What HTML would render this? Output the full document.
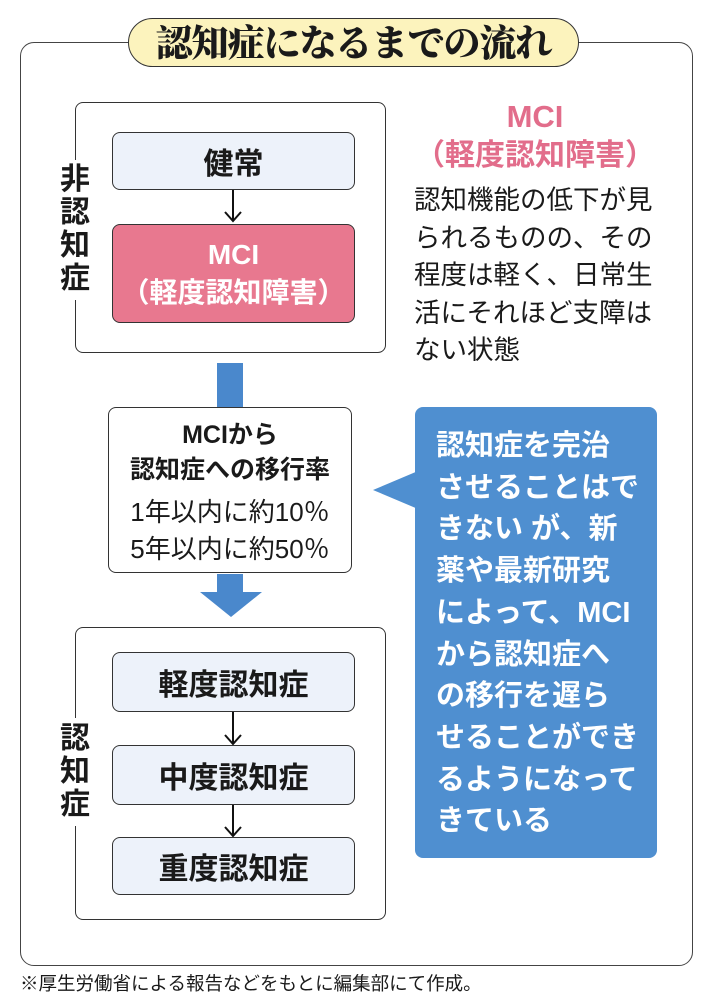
<!DOCTYPE html>
<html><head><meta charset="utf-8"><style>
*{margin:0;padding:0;box-sizing:border-box}
body{width:710px;height:1005px;background:#fff;position:relative;overflow:hidden;font-family:"Liberation Sans","Noto Sans CJK JP",sans-serif;color:#1a1a1a}
.a{position:absolute}
.box{position:absolute;border:1.5px solid #333;border-radius:8px}
.lb{position:absolute;background:#edf2fa;border:1.5px solid #333;border-radius:8px;display:flex;align-items:center;justify-content:center;font-weight:bold;font-size:30px}
.t{position:absolute;white-space:nowrap;line-height:1}
.c{text-align:center}
</style></head><body>
<div class="box" style="left:20px;top:42px;width:673px;height:924px;border-radius:14px;border-color:#444"></div>
<div class="a" style="left:128px;top:18px;width:451px;height:49px;background:#fcf3bd;border:1.5px solid #333;border-radius:25px"></div>
<div class="t c" style="left:128px;top:22px;width:451px;font-family:'Noto Serif CJK SC','Noto Serif CJK JP',serif;font-weight:900;font-size:37px;letter-spacing:-1px">認知症になるまでの流れ</div>

<div class="box" style="left:75px;top:102px;width:311px;height:251px"></div>
<div class="a" style="left:58px;top:160px;width:36px;height:140px;background:#fff"></div>
<div class="t" style="left:60px;top:163px;font-size:30px;font-weight:bold;line-height:33px;white-space:normal;width:32px">非<br>認<br>知<br>症</div>
<div class="lb" style="left:112px;top:132px;width:243px;height:58px">健常</div>
<svg class="a" style="left:222px;top:190px" width="22" height="34"><line x1="11" y1="0" x2="11" y2="31" stroke="#111" stroke-width="2"/><polyline points="3,22 11,31 19,22" fill="none" stroke="#111" stroke-width="2"/></svg>
<div class="lb" style="left:112px;top:224px;width:243px;height:99px;background:#e8788f;color:#fff;flex-direction:column;font-size:28px;line-height:38px">MCI<span>（軽度認知障害）</span></div>

<div class="t c" style="left:415px;top:101px;width:240px;color:#e26d8b;font-size:31px;font-weight:bold">MCI</div>
<div class="t c" style="left:400px;top:141px;width:270px;color:#e26d8b;font-size:30px;font-weight:bold">（軽度認知障害）</div>
<div class="t" style="left:414px;top:182px;font-size:26.5px;line-height:37.5px">認知機能の低下が見<br>られるものの、その<br>程度は軽く、日常生<br>活にそれほど支障は<br>ない状態</div>

<div class="a" style="left:217px;top:363px;width:26px;height:45px;background:#4a88cc"></div>
<div class="box" style="left:108px;top:407px;width:244px;height:166px;background:#fff"></div>
<div class="t c" style="left:108px;top:423px;width:244px;font-size:25px;font-weight:bold">MCIから</div>
<div class="t c" style="left:108px;top:458px;width:244px;font-size:25px;font-weight:bold">認知症への移行率</div>
<div class="t c" style="left:108px;top:499px;width:244px;font-size:26px">1年以内に約10％</div>
<div class="t c" style="left:108px;top:536px;width:244px;font-size:26px">5年以内に約50％</div>
<div class="a" style="left:217px;top:574px;width:26px;height:19px;background:#4a88cc"></div>
<svg class="a" style="left:200px;top:592px" width="62" height="26"><polygon points="0,0 62,0 31,25" fill="#4a88cc"/></svg>

<div class="box" style="left:75px;top:627px;width:311px;height:293px"></div>
<div class="a" style="left:58px;top:718px;width:36px;height:108px;background:#fff"></div>
<div class="t" style="left:60px;top:722px;font-size:30px;font-weight:bold;line-height:33px;white-space:normal;width:32px">認<br>知<br>症</div>
<div class="lb" style="left:112px;top:652px;width:243px;height:60px">軽度認知症</div>
<svg class="a" style="left:222px;top:712px" width="22" height="34"><line x1="11" y1="0" x2="11" y2="32" stroke="#111" stroke-width="2"/><polyline points="3,23 11,32 19,23" fill="none" stroke="#111" stroke-width="2"/></svg>
<div class="lb" style="left:112px;top:745px;width:243px;height:60px">中度認知症</div>
<svg class="a" style="left:222px;top:805px" width="22" height="34"><line x1="11" y1="0" x2="11" y2="31" stroke="#111" stroke-width="2"/><polyline points="3,22 11,31 19,22" fill="none" stroke="#111" stroke-width="2"/></svg>
<div class="lb" style="left:112px;top:837px;width:243px;height:58px">重度認知症</div>

<svg class="a" style="left:372px;top:465px" width="50" height="50"><polygon points="1,25 46,6 46,44" fill="#4f8fd0"/></svg>
<div class="a" style="left:415px;top:407px;width:242px;height:451px;background:#4f8fd0;border-radius:8px"></div>
<div class="t" style="left:436px;top:426px;color:#fff;font-size:29px;font-weight:bold;line-height:41.7px">認知症を完治<br>させることはで<br>きない が、新<br>薬や最新研究<br>によって、MCI<br>から認知症へ<br>の移行を遅ら<br>せることができ<br>るようになって<br>きている</div>

<div class="t" style="left:20px;top:975px;font-size:18.5px">※厚生労働省による報告などをもとに編集部にて作成。</div>
</body></html>
